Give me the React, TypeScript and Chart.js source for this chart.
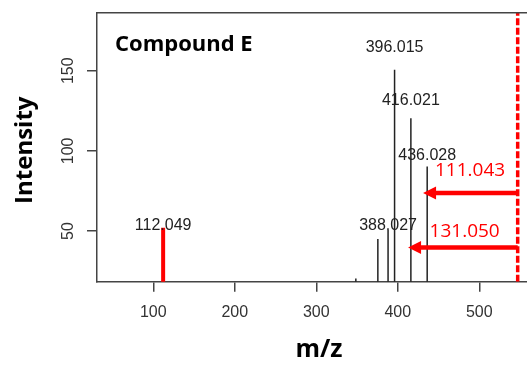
import React, { useEffect, useRef } from "react";
import { Chart, registerables } from "chart.js";

Chart.register(...registerables);

// ---- data ----
const PEAK_MZ = [348.5, 375.5, 388.027, 396.015, 416.021, 436.028];
const PEAK_INT = [20.4, 45, 50.6, 150.6, 120.4, 90.2];
const RED_PEAK_MZ = [112.049];
const RED_PEAK_INT = [52];

const LABEL_TEXT = ["112.049", "388.027", "396.015", "416.021", "436.028"];
const LABEL_MZ = [112.049, 388.027, 396.015, 416.021, 436.028];
const LABEL_INT = [53.7, 53.7, 164.2, 131.2, 97.3];

const PRECURSOR_MZ = 547.07;
const ARROW_TEXT = ["111.043", "131.050"];
const ARROW_TIP_MZ = [431, 412.6];
const ARROW_INT = [73.8, 39.8];
const ARROW_LABEL_MZ = [488.6, 482];
const ARROW_LABEL_INT = [87.5, 49.6];

const X_TICKS = [100, 200, 300, 400, 500];
const Y_TICKS = [50, 100, 150];
const X_MIN = 30.9;
const X_MAX = 558.5;
const Y_MIN = 18.4;
const Y_MAX = 186.2;

const TITLE = "Compound E";
const TITLE_MZ = 53;
const TITLE_INT = 166;
const X_TITLE = "m/z";
const Y_TITLE = "Intensity";

const AXIS_COLOR = "#444";
const RED = "#ff0000";

const overlayPlugin = {
  id: "overlay",
  afterDatasetsDraw(chart: any) {
    const { ctx, chartArea, scales } = chart;
    const xs = scales.x;
    const ys = scales.y;
    ctx.save();
    // top border
    ctx.strokeStyle = AXIS_COLOR;
    ctx.lineWidth = 1.5;
    ctx.beginPath();
    ctx.moveTo(chartArea.left, chartArea.top);
    ctx.lineTo(chartArea.right, chartArea.top);
    ctx.stroke();

    // peak labels
    ctx.fillStyle = "#222";
    ctx.font = "16px 'Liberation Sans', Arial, sans-serif";
    ctx.textAlign = "center";
    ctx.textBaseline = "middle";
    LABEL_TEXT.forEach((t, i) => {
      ctx.fillText(t, xs.getPixelForValue(LABEL_MZ[i]), ys.getPixelForValue(LABEL_INT[i]));
    });

    // arrows
    ctx.strokeStyle = RED;
    ctx.fillStyle = RED;
    ctx.lineWidth = 4.5;
    const x0 = xs.getPixelForValue(PRECURSOR_MZ);
    ARROW_TEXT.forEach((t, i) => {
      const tip = xs.getPixelForValue(ARROW_TIP_MZ[i]);
      const y = ys.getPixelForValue(ARROW_INT[i]);
      const headL = 13;
      const headW = 6.5;
      ctx.beginPath();
      ctx.moveTo(x0, y);
      ctx.lineTo(tip + headL - 1, y);
      ctx.stroke();
      ctx.beginPath();
      ctx.moveTo(tip, y);
      ctx.lineTo(tip + headL, y - headW);
      ctx.lineTo(tip + headL, y + headW);
      ctx.closePath();
      ctx.fill();
      ctx.font = "19px 'Open Sans', sans-serif";
      ctx.textAlign = "center";
      ctx.textBaseline = "middle";
      ctx.fillText(t, xs.getPixelForValue(ARROW_LABEL_MZ[i]), ys.getPixelForValue(ARROW_LABEL_INT[i]));
    });

    // y tick labels (rotated)
    ctx.fillStyle = "#333";
    ctx.font = "16px 'Liberation Sans', Arial, sans-serif";
    ys.ticks.forEach((tk: any) => {
      const py = ys.getPixelForValue(tk.value);
      ctx.save();
      ctx.translate(chartArea.left - 28.5, py);
      ctx.rotate(-Math.PI / 2);
      ctx.textAlign = "center";
      ctx.textBaseline = "middle";
      ctx.fillText(String(tk.value), 0, 0);
      ctx.restore();
    });

    // chart title
    ctx.fillStyle = "#000";
    ctx.font = "bold 22px 'Open Sans', sans-serif";
    ctx.textAlign = "left";
    ctx.textBaseline = "middle";
    ctx.fillText(TITLE, xs.getPixelForValue(TITLE_MZ), ys.getPixelForValue(TITLE_INT));

    // axis titles
    ctx.font = "bold 25px 'Open Sans', sans-serif";
    ctx.textAlign = "center";
    ctx.fillText(X_TITLE, chartArea.left + 222, chartArea.bottom + 68);
    ctx.save();
    ctx.translate(chartArea.left - 72, (chartArea.top + chartArea.bottom) / 2 + 3);
    ctx.rotate(-Math.PI / 2);
    ctx.font = "bold 24px 'Open Sans', sans-serif";
    ctx.fillText(Y_TITLE, 0, 0);
    ctx.restore();
    ctx.restore();
  },
};

export default function App() {
  const ref = useRef<HTMLCanvasElement>(null);
  useEffect(() => {
    if (!ref.current) return;
    const peakSets = PEAK_MZ.map((mz, i) => ({
      data: [
        { x: mz, y: 0 },
        { x: mz, y: PEAK_INT[i] },
      ],
      borderColor: "#222",
      borderWidth: 1.5,
      pointRadius: 0,
      clip: 0,
    }));
    const redSets = RED_PEAK_MZ.map((mz, i) => ({
      data: [
        { x: mz, y: 0 },
        { x: mz, y: RED_PEAK_INT[i] },
      ],
      borderColor: RED,
      borderWidth: 4,
      pointRadius: 0,
      clip: 0,
    }));
    const dashed = {
      data: [
        { x: PRECURSOR_MZ, y: Y_MIN },
        { x: PRECURSOR_MZ, y: Y_MAX },
      ],
      borderColor: RED,
      borderWidth: 3.5,
      borderDash: [7, 2.5],
      pointRadius: 0,
      clip: 0,
    };
    const chart = new Chart(ref.current, {
      type: "line",
      data: { datasets: [...peakSets, ...redSets, dashed] as any },
      options: {
        responsive: false,
        animation: false,
        layout: { padding: { left: 0, top: 12.7, right: 0, bottom: 0 } },
        plugins: { legend: { display: false }, tooltip: { enabled: false } },
        scales: {
          x: {
            type: "linear",
            min: X_MIN,
            max: X_MAX,
            afterBuildTicks: (s: any) => {
              s.ticks = X_TICKS.map((v) => ({ value: v }));
            },
            afterFit: (s: any) => {
              s.height = 83.3;
            },
            grid: { drawOnChartArea: false, drawTicks: true, tickLength: 10, color: AXIS_COLOR, lineWidth: 1.5 },
            border: { display: true, color: AXIS_COLOR, width: 1.5 },
            ticks: {
              color: "#333",
              font: { family: "'Liberation Sans', Arial, sans-serif", size: 16 },
              padding: 11,
              maxRotation: 0,
              autoSkip: false,
            },
          },
          y: {
            type: "linear",
            min: Y_MIN,
            max: Y_MAX,
            afterBuildTicks: (s: any) => {
              s.ticks = Y_TICKS.map((v) => ({ value: v }));
            },
            afterFit: (s: any) => {
              s.width = 97;
            },
            grid: { drawOnChartArea: false, drawTicks: true, tickLength: 10, color: AXIS_COLOR, lineWidth: 1.5 },
            border: { display: true, color: AXIS_COLOR, width: 1.5 },
            ticks: { display: false },
          },
        },
      },
      plugins: [overlayPlugin],
    });
    return () => chart.destroy();
  }, []);
  return (
    <div style={{ position: "fixed", left: 0, top: 0, width: 527, height: 365, background: "#fff" }}>
      <canvas ref={ref} width={527} height={365} />
    </div>
  );
}
